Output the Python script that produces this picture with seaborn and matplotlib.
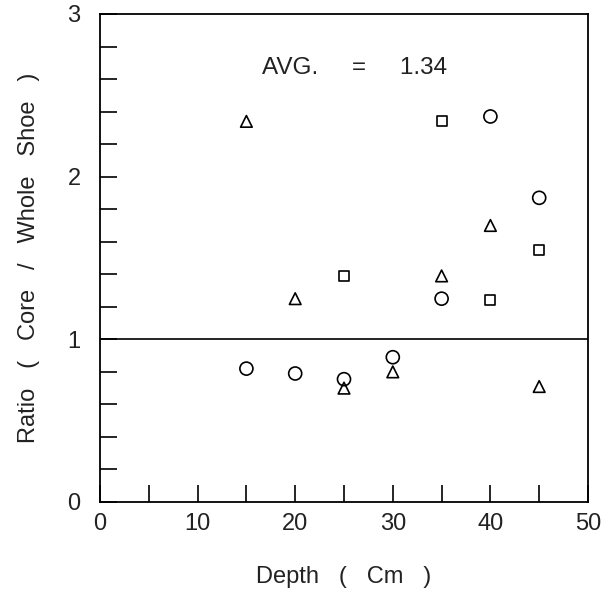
import matplotlib
matplotlib.use("Agg")
import matplotlib.pyplot as plt
import seaborn as sns
import pandas as pd
from matplotlib.ticker import MultipleLocator

# Data
circle_depth = [15, 20, 25, 30, 35, 40, 45]
circle_ratio = [0.82, 0.79, 0.755, 0.89, 1.25, 2.37, 1.87]
triangle_depth = [15, 20, 25, 30, 35, 40, 45]
triangle_ratio = [2.34, 1.25, 0.70, 0.80, 1.39, 1.70, 0.71]
square_depth = [25, 35, 40, 45]
square_ratio = [1.39, 2.34, 1.24, 1.55]
avg_text = "AVG.     =     1.34"
x_ticks = [0, 10, 20, 30, 40, 50]
y_ticks = [0, 1, 2, 3]

sns.set_theme(style="white")
plt.rcParams['font.family'] = ['Liberation Sans', 'DejaVu Sans']

fig = plt.figure(figsize=(6.03, 5.93), dpi=100)
ax = fig.add_axes([100/603, (593-502)/593, (588-100)/603, (502-14)/593])

df_c = pd.DataFrame({"depth": circle_depth, "ratio": circle_ratio})
df_t = pd.DataFrame({"depth": triangle_depth, "ratio": triangle_ratio})
df_s = pd.DataFrame({"depth": square_depth, "ratio": square_ratio})

common = dict(facecolor="none", edgecolor="black", linewidth=1.2, legend=False, ax=ax)
sns.scatterplot(data=df_c, x="depth", y="ratio", marker="o", s=88, **common)
sns.scatterplot(data=df_t, x="depth", y="ratio", marker="^", s=70, **common)
sns.scatterplot(data=df_s, x="depth", y="ratio", marker="s", s=50, **common)

ax.axhline(1, color="black", linewidth=1.2)

ax.set_xlim(0, 50)
ax.set_ylim(0, 3)
ax.set_xticks(x_ticks)
ax.set_yticks(y_ticks)
ax.xaxis.set_minor_locator(MultipleLocator(5))
ax.yaxis.set_minor_locator(MultipleLocator(0.2))
ax.tick_params(axis="both", which="both", direction="in", length=12, width=1.2,
               color="black", labelsize=17, labelcolor="#222222")
ax.tick_params(axis="x", which="both", bottom=True, top=False, pad=8)
ax.tick_params(axis="y", which="both", left=True, right=False, pad=14)
for sp in ax.spines.values():
    sp.set_color("black")
    sp.set_linewidth(1.3)
    sp.set_visible(True)

ax.set_xlabel("Depth   (   Cm   )", fontsize=17, color="#222222", labelpad=22)
ax.set_ylabel("Ratio   (   Core   /   Whole   Shoe   )", fontsize=17, color="#222222", labelpad=20)
ax.text(26.1, 2.67, avg_text, fontsize=17.5, ha="center", va="center", color="#222222")

fig.savefig("out.png", dpi=100)
